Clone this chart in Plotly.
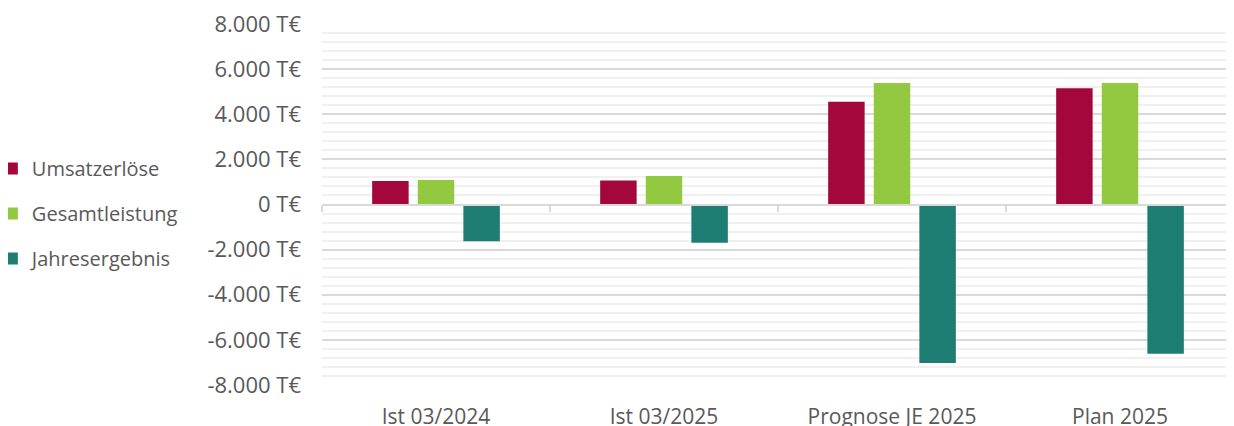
import plotly.graph_objects as go

categories = ["Ist 03/2024", "Ist 03/2025", "Prognose JE 2025", "Plan 2025"]
umsatzerloese = [1040, 1060, 4550, 5150]
gesamtleistung = [1090, 1260, 5390, 5390]
jahresergebnis = [-1630, -1700, -7020, -6620]

series_names = ["Umsatzerlöse", "Gesamtleistung", "Jahresergebnis"]
series_colors = ["#A3073C", "#93C841", "#1E7D73"]

y_tickvals = [-8000, -6000, -4000, -2000, 0, 2000, 4000, 6000, 8000]
y_ticktext = ["-8.000 T€", "-6.000 T€", "-4.000 T€", "-2.000 T€", "0 T€",
              "2.000 T€", "4.000 T€", "6.000 T€", "8.000 T€"]

FONT = "Open Sans"
TXT = "#595959"

fig = go.Figure()
for name, vals, col in zip(series_names, [umsatzerloese, gesamtleistung, jahresergebnis], series_colors):
    fig.add_trace(go.Bar(
        x=categories, y=vals, name=name, marker=dict(color=col, line=dict(width=0)),
        legendgroup=name,
    ))

# invisible helper trace for the axis line at zero with boundary ticks
fig.add_trace(go.Scatter(
    x=categories, y=[0] * len(categories), xaxis="x2", yaxis="y",
    mode="markers", marker=dict(opacity=0), showlegend=False, hoverinfo="skip",
))

# page body has an 8px margin, so the figure is sized to the remaining viewport
fig.update_layout(
    width=1226, height=418,
    margin=dict(l=314, r=0, t=15.5, b=41, autoexpand=False),
    paper_bgcolor="white", plot_bgcolor="white",
    font=dict(family=FONT, size=20, color=TXT),
    barmode="group", bargap=0.4, bargroupgap=0.2,
    showlegend=True,
    legend=dict(
        x=-0.362, xanchor="left", y=0.475, yanchor="middle",
        orientation="v", traceorder="grouped", tracegroupgap=16,
        font=dict(family=FONT, size=20, color=TXT),
        bgcolor="rgba(0,0,0,0)", itemwidth=30,
    ),
    xaxis=dict(
        type="category", categoryarray=categories, automargin=False,
        showgrid=False, showline=False, zeroline=False,
        ticks="", ticklabelstandoff=17, ticklabeloverflow="allow",
        tickfont=dict(family=FONT, size=21, color=TXT),
    ),
    xaxis2=dict(
        type="category", categoryarray=categories, overlaying="x", matches="x",
        anchor="free", position=0.5, side="bottom", automargin=False,
        showline=True, linecolor="#D9D9D9", linewidth=2,
        ticks="outside", tickson="boundaries", ticklen=6, tickwidth=2, tickcolor="#D9D9D9",
        showticklabels=False, showgrid=False, zeroline=False,
    ),
    yaxis=dict(
        range=[-8000, 8000], tickvals=y_tickvals, ticktext=y_ticktext, automargin=False,
        showgrid=True, gridcolor="#D9D9D9", gridwidth=1.5,
        zeroline=False, showline=False, ticks="", ticklabelstandoff=20,
        ticklabeloverflow="allow",
        tickfont=dict(family=FONT, size=22, color=TXT),
        minor=dict(dtick=400, showgrid=True, gridcolor="#F0F0F0", gridwidth=1.5, ticks=""),
    ),
)

fig.write_html("out.html")
